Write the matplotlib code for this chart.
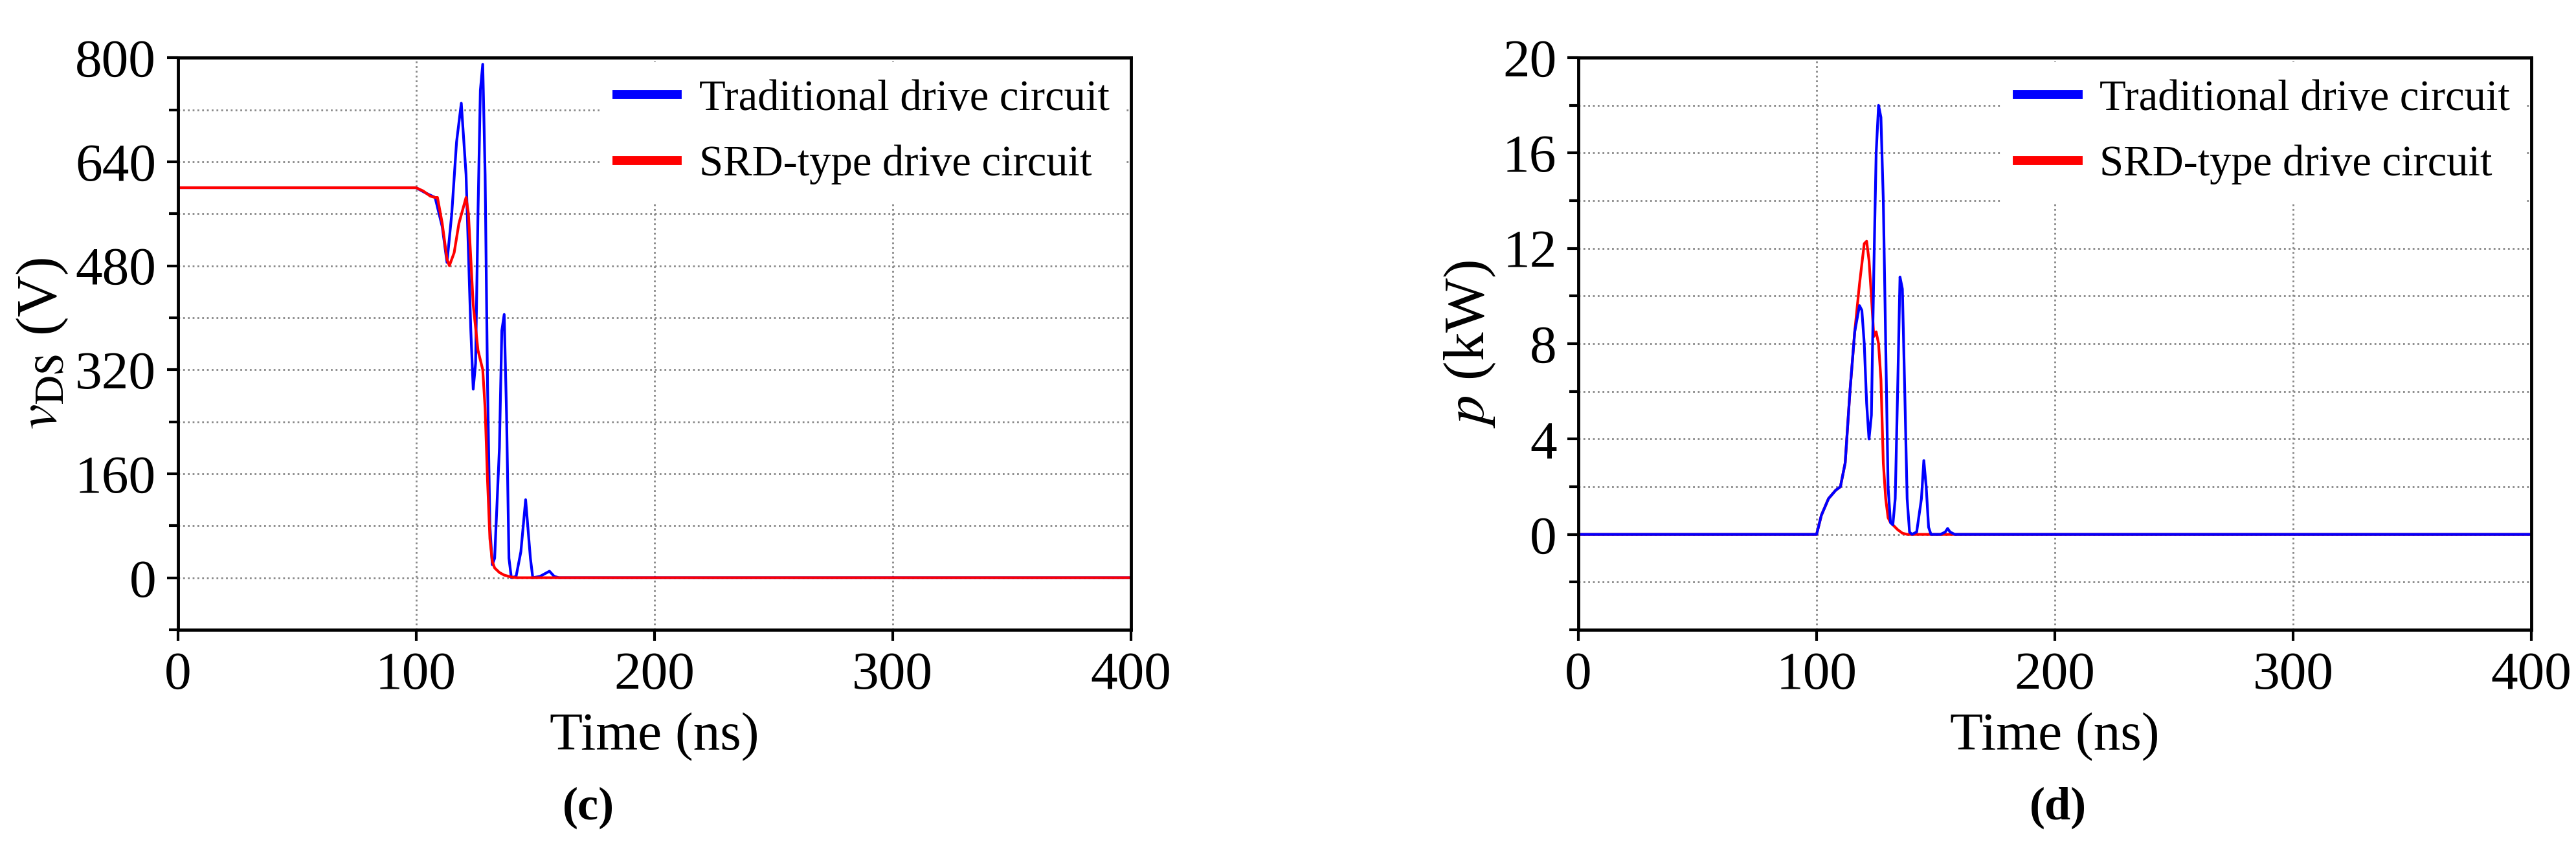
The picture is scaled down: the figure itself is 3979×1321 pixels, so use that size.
import matplotlib
matplotlib.use("Agg")
import matplotlib.pyplot as plt
from matplotlib.ticker import MultipleLocator, FixedLocator

plt.rcParams['font.family'] = ['Liberation Serif', 'DejaVu Serif']
plt.rcParams['mathtext.fontset'] = 'stix'

# (c) v_DS data
t_vb = [0, 100, 104, 108, 111, 113, 115, 117, 119, 121, 123, 124, 125, 126, 127, 128, 129, 130, 131, 132, 133, 135, 136, 137, 138, 139, 140, 142, 144, 146, 148, 149, 152, 155, 156, 158, 160, 400]
v_b   = [600, 600, 592, 585, 540, 485, 560, 670, 730, 620, 380, 290, 330, 560, 750, 790, 620, 300, 80, 20, 30, 200, 380, 405, 250, 30, 0, 2, 40, 120, 30, 0, 2, 8, 10, 2, 0, 0]
t_vr = [0, 100, 103, 106, 108, 109, 111, 113, 114, 116, 118, 121, 122, 124, 126, 128, 129, 130, 131, 132, 133, 135, 137, 140, 142, 400]
v_r   = [600, 600, 595, 587, 585, 585, 545, 490, 480, 500, 545, 585, 560, 420, 350, 320, 260, 150, 60, 25, 15, 8, 4, 1, 0, 0]
v_ticks = [0, 160, 320, 480, 640, 800]

# (d) power data
t_pb = [0, 100, 102, 105, 108, 110, 112, 114, 116, 118, 119, 120, 121, 122, 123, 124, 125, 126, 127, 128, 129, 130, 131, 132, 133, 134, 135, 136, 137, 138, 139, 140, 142, 144, 145, 146, 147, 148, 152, 154, 155, 156, 158, 400]
p_b   = [0, 0, 0.8, 1.5, 1.85, 2.0, 3.0, 6.0, 8.5, 9.6, 9.4, 8.0, 5.5, 4.0, 5.0, 11.0, 16.0, 18.0, 17.5, 14.0, 8.0, 2.0, 0.5, 0.4, 1.5, 6.0, 10.8, 10.3, 6.0, 1.5, 0.1, 0, 0.1, 1.5, 3.1, 2.0, 0.3, 0, 0, 0.1, 0.25, 0.1, 0, 0]
t_pr = [0, 100, 102, 105, 108, 110, 112, 114, 116, 118, 120, 121, 122, 123, 124, 125, 126, 127, 128, 129, 130, 131, 132, 134, 136, 138, 140, 400]
p_r   = [0, 0, 0.8, 1.5, 1.85, 2.0, 3.0, 6.0, 8.5, 10.5, 12.2, 12.3, 11.5, 10.0, 8.3, 8.5, 8.0, 6.5, 3.0, 1.5, 0.7, 0.5, 0.4, 0.2, 0.05, 0, 0, 0]
p_ticks = [0, 4, 8, 12, 16, 20]

legend_labels = ["Traditional drive circuit", "SRD-type drive circuit"]

fig = plt.figure(figsize=(39.79, 13.21), dpi=100)
axc = fig.add_axes([0.069, 0.2635, 0.370, 0.669])
axd = fig.add_axes([0.6127, 0.2635, 0.370, 0.669])

def style(ax, ylim, ticks, minor):
    ax.set_xlim(0, 400)
    ax.set_ylim(*ylim)
    ax.xaxis.set_major_locator(MultipleLocator(100))
    ax.yaxis.set_major_locator(FixedLocator(ticks))
    ax.yaxis.set_minor_locator(MultipleLocator(minor))
    ax.grid(True, which='both', axis='y', linestyle=':', color='#888888', linewidth=2)
    ax.grid(True, which='major', axis='x', linestyle=':', color='#888888', linewidth=2)
    ax.set_axisbelow(True)
    for s in ax.spines.values():
        s.set_linewidth(3.5)
    ax.tick_params(which='both', direction='out', width=3, labelsize=60, pad=12)
    ax.tick_params(which='major', length=12)
    ax.tick_params(which='minor', length=10)
    ax.set_xlabel("Time (ns)", fontsize=60, labelpad=14)

axc.plot(t_vb, v_b, color='blue', lw=3, label=legend_labels[0])
axc.plot(t_vr, v_r, color='red', lw=3, label=legend_labels[1])
style(axc, (-80, 800), v_ticks, 80)
axc.set_ylabel(r"$v_{\rm DS}$ (V)", fontsize=64, labelpad=6)

axd.plot(t_pr, p_r, color='red', lw=3, label=legend_labels[1])
axd.plot(t_pb, p_b, color='blue', lw=3, label=legend_labels[0])
style(axd, (-4, 20), p_ticks, 2)
axd.set_ylabel(r"$p$ (kW)", fontsize=64, labelpad=6)

for ax in (axc, axd):
    h, l = ax.get_legend_handles_labels()
    order = [l.index(legend_labels[0]), l.index(legend_labels[1])]
    leg = ax.legend([h[i] for i in order], [l[i] for i in order], loc='upper right',
                    frameon=True, fontsize=48, handlelength=1.4, handletextpad=0.5,
                    borderaxespad=0.1, labelspacing=0.6, facecolor='white', edgecolor='none',
                    framealpha=1, fancybox=False)
    for line in leg.get_lines():
        line.set_linewidth(10)

fig.text(0.2285, 0.055, "(c)", fontsize=52, ha='center', va='center', fontweight='bold')
fig.text(0.799, 0.055, "(d)", fontsize=52, ha='center', va='center', fontweight='bold')

fig.savefig("out.png", dpi=100)
